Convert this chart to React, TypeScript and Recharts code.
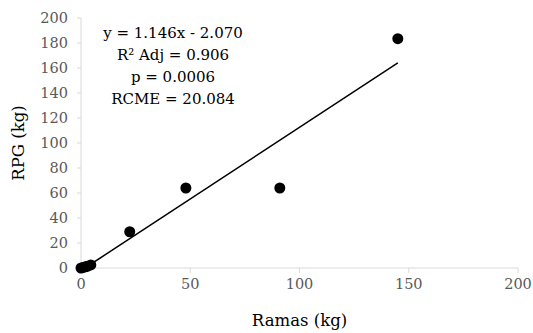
import { ScatterChart, Scatter, XAxis, YAxis, Label, ReferenceLine } from 'recharts';

const ramas = [0, 1, 2, 3, 4.5, 22.3, 48, 91, 145];
const rpg = [0, 0.5, 1, 1.5, 2.5, 29, 64, 64, 183.5];
const xTicks = [0, 50, 100, 150, 200];
const yTicks = [0, 20, 40, 60, 80, 100, 120, 140, 160, 180, 200];
const equationLines = ['y = 1.146x - 2.070', 'R² Adj = 0.906', 'p = 0.0006', 'RCME = 20.084'];

const SLOPE = 1.146;
const INTERCEPT = -2.07;
const trendStart = -INTERCEPT / SLOPE;
const trendEnd = 145;

const points = ramas.map((x, i) => ({ x, y: rpg[i] }));

const FONT = 'DejaVu Serif';
const AXIS_COLOR = '#d9d9d9';
const TICK = { fill: '#595959', fontSize: 14.5, fontFamily: FONT };

export default function App() {
  return (
    <div style={{ position: 'fixed', left: 0, top: 0, width: 533, height: 333, background: '#fff', fontFamily: FONT }}>
      <style>{`svg text { font-family: 'DejaVu Serif'; }`}</style>
      <ScatterChart width={533} height={333} margin={{ top: 18, right: 15, bottom: 35, left: 0 }}>
        <XAxis
          type="number"
          dataKey="x"
          domain={[0, 200]}
          ticks={xTicks}
          stroke={AXIS_COLOR}
          tick={TICK}
          tickSize={5}
          tickMargin={6}
          height={30}
        >
          <Label value="Ramas (kg)" position="bottom" offset={16} style={{ fill: '#000', fontSize: 16.5 }} />
        </XAxis>
        <YAxis
          type="number"
          dataKey="y"
          domain={[0, 200]}
          ticks={yTicks}
          stroke={AXIS_COLOR}
          tick={TICK}
          tickSize={4}
          tickMargin={9}
          width={81}
          interval={0}
        >
          <Label
            value="RPG (kg)"
            angle={-90}
            position="insideLeft"
            offset={18}
            style={{ fill: '#000', fontSize: 16.5, textAnchor: 'middle' }}
          />
        </YAxis>
        <ReferenceLine
          segment={[
            { x: trendStart, y: 0 },
            { x: trendEnd, y: SLOPE * trendEnd + INTERCEPT },
          ]}
          stroke="#000"
          strokeWidth={1.5}
        />
        <Scatter data={points} fill="#000" isAnimationActive={false} shape={(p: any) => <circle cx={p.cx} cy={p.cy} r={5.5} fill="#000" />} />
        <text x={173} y={38} textAnchor="middle" fontSize={15} fill="#000">
          {equationLines.map((line, i) => (
            <tspan key={i} x={173} dy={i === 0 ? 0 : 22}>
              {line}
            </tspan>
          ))}
        </text>
      </ScatterChart>
    </div>
  );
}
